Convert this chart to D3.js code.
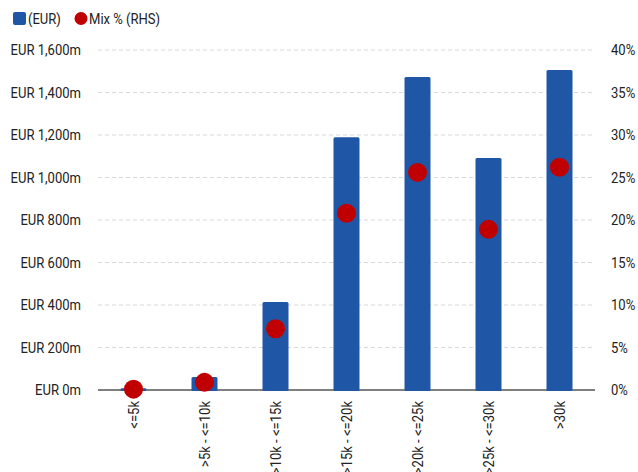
<!DOCTYPE html>
<html>
<head>
<meta charset="utf-8">
<script src="https://cdn.jsdelivr.net/npm/d3@7/dist/d3.min.js"></script>
<style>
  html, body { margin: 0; padding: 0; background: #fff; }
  svg { display: block; }
  text { font-family: Roboto, "Liberation Sans", sans-serif; fill: #222; }
</style>
</head>
<body>
<svg id="chart" width="638" height="472"></svg>
<script>
// Income bands
const categories = ["<=5k", ">5k - <=10k", ">10k - <=15k", ">15k - <=20k", ">20k - <=25k", ">25k - <=30k", ">30k"];
// Balance per band, EUR millions (left axis)
const amountsEUR = [8, 61, 414, 1190, 1473, 1092, 1506];
// Share of total, percent (right axis)
const mixPct = [0.1, 0.9, 7.2, 20.8, 25.6, 18.9, 26.2];
// Axis ticks
const leftTicks = [0, 200, 400, 600, 800, 1000, 1200, 1400, 1600];
const rightTicks = [0, 5, 10, 15, 20, 25, 30, 35, 40];

const svg = d3.select("#chart");
const plotLeft = 98, plotRight = 595, plotTop = 50, plotBottom = 390;
const FONT_SIZE = "15px";
const SX = 0.87; // horizontal squeeze giving a condensed look

const x = d3.scaleBand().domain(categories).range([plotLeft, plotRight]).paddingInner(0.634).paddingOuter(0.317);
const yL = d3.scaleLinear().domain([0, 1600]).range([plotBottom, plotTop]);
const yR = d3.scaleLinear().domain([0, 40]).range([plotBottom, plotTop]);

const fmtEUR = d => "EUR " + d3.format(",")(d) + "m";

// Condense a text placed at local x position px
function condense(sel, px) {
  sel.attr("x", px / SX).attr("transform", `scale(${SX},1)`)
     .attr("font-size", FONT_SIZE).attr("fill", "#222");
}

// Gridlines
svg.append("g").selectAll("line")
  .data(leftTicks.filter(d => d > 0))
  .join("line")
  .attr("x1", plotLeft).attr("x2", plotRight)
  .attr("y1", d => yL(d)).attr("y2", d => yL(d))
  .attr("stroke", "#d9d9d9").attr("stroke-width", 1)
  .attr("stroke-dasharray", "4,3");

// Left axis
const axL = svg.append("g")
  .attr("transform", `translate(${plotLeft},0)`)
  .call(d3.axisLeft(yL).tickValues(leftTicks).tickFormat(fmtEUR).tickSize(0));
axL.select(".domain").remove();
axL.selectAll("text").call(condense, -17).style("font-family", "Roboto, sans-serif");

// Right axis
const axR = svg.append("g")
  .attr("transform", `translate(${plotRight},0)`)
  .call(d3.axisRight(yR).tickValues(rightTicks).tickFormat(d => d + "%").tickSize(0));
axR.select(".domain").remove();
axR.selectAll("text").call(condense, 16).style("font-family", "Roboto, sans-serif");

// Baseline
svg.append("line")
  .attr("x1", plotLeft).attr("x2", plotRight)
  .attr("y1", plotBottom).attr("y2", plotBottom)
  .attr("stroke", "#7f7f7f").attr("stroke-width", 2);

// Bars
svg.append("g").selectAll("rect")
  .data(categories)
  .join("rect")
  .attr("x", d => x(d))
  .attr("width", x.bandwidth())
  .attr("y", (d, i) => yL(amountsEUR[i]))
  .attr("height", (d, i) => yL(0) - yL(amountsEUR[i]) + 1)
  .attr("rx", 1.5)
  .attr("fill", "#1f56a6");

// Mix markers
svg.append("g").selectAll("circle")
  .data(categories)
  .join("circle")
  .attr("cx", d => x(d) + x.bandwidth() / 2)
  .attr("cy", (d, i) => yR(mixPct[i]))
  .attr("r", 9.5)
  .attr("fill", "#c00000");

// Category labels, rotated
const axX = svg.append("g")
  .attr("transform", `translate(0,${plotBottom})`)
  .call(d3.axisBottom(x).tickSize(0).tickPadding(0));
axX.select(".domain").remove();
axX.selectAll("text")
  .attr("font-size", FONT_SIZE)
  .style("font-family", "Roboto, sans-serif")
  .attr("fill", "#222")
  .attr("text-anchor", "end")
  .attr("dy", "0.35em")
  .attr("transform", `translate(0,11) rotate(-90) scale(${SX},1)`)
  .attr("x", 0).attr("y", 0);

// Legend
const lg = svg.append("g");
lg.append("rect").attr("x", 13).attr("y", 12).attr("width", 13).attr("height", 13).attr("rx", 2).attr("fill", "#1f56a6");
lg.append("text").attr("y", 24).text("(EUR)").call(condense, 28);
lg.append("circle").attr("cx", 81).attr("cy", 18.5).attr("r", 6.5).attr("fill", "#c00000");
lg.append("text").attr("y", 24).text("Mix % (RHS)").call(condense, 89);
</script>
</body>
</html>
